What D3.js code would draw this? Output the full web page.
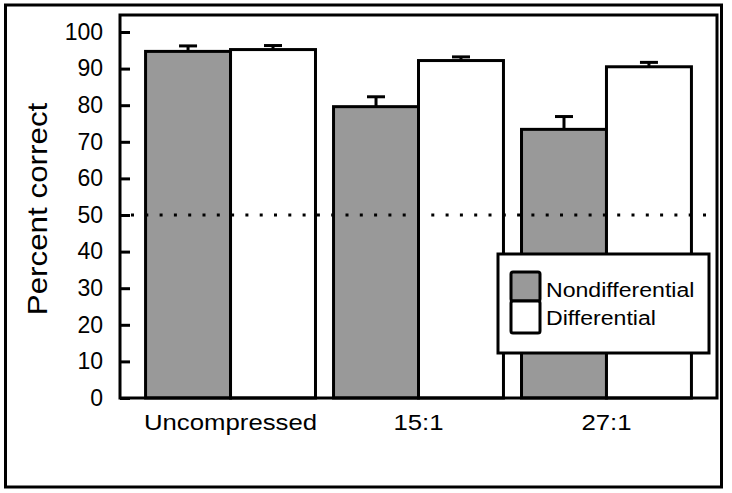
<!DOCTYPE html>
<html><head><meta charset="utf-8">
<script src="https://cdn.jsdelivr.net/npm/d3@7"></script>
<style>
html,body{margin:0;padding:0;background:#fff;}
text{font-family:"Liberation Sans",Arial,Helvetica,sans-serif;fill:#000;}
</style></head>
<body><svg id="c" width="732" height="493"></svg>
<script>
const categories = ["Uncompressed", "15:1", "27:1"];
const seriesNames = ["Nondifferential", "Differential"];
const nondiffValues = [94.7, 79.6, 73.4];
const nondiffErrors = [1.5, 2.7, 3.5];
const diffValues = [95.2, 92.2, 90.5];
const diffErrors = [1.1, 1.0, 1.2];
const yTicks = [0,10,20,30,40,50,60,70,80,90,100];
const chanceLevel = 50;
const seriesColors = ["#999999", "#ffffff"];

const svg = d3.select("#c");
const L = 120, R = 717, T = 15, B = 398;

// outer frame
svg.append("rect").attr("x",5.5).attr("y",5).attr("width",716).attr("height",482)
  .attr("fill","none").attr("stroke","#000").attr("stroke-width",3);

const x0 = d3.scaleBand().domain(categories).range([L, R]).paddingInner(0.096).paddingOuter(0.136);
const x1 = d3.scaleBand().domain(seriesNames).range([0, x0.bandwidth()]);
const y = d3.scaleLinear().domain([0, 100]).range([B, 32]);

const rows = [];
categories.forEach((c,i)=>{
  rows.push({cat:c, s:seriesNames[0], v:nondiffValues[i], e:nondiffErrors[i], col:seriesColors[0]});
  rows.push({cat:c, s:seriesNames[1], v:diffValues[i], e:diffErrors[i], col:seriesColors[1]});
});

// bars
svg.append("g").selectAll("rect").data(rows).join("rect")
  .attr("x", d=>x0(d.cat)+x1(d.s))
  .attr("y", d=>y(d.v))
  .attr("width", x1.bandwidth())
  .attr("height", d=>B - y(d.v))
  .attr("fill", d=>d.col).attr("stroke","#000").attr("stroke-width",3);

// error bars
const eg = svg.append("g").attr("stroke","#000").attr("stroke-width",3);
rows.forEach(d=>{
  const cx = x0(d.cat)+x1(d.s)+x1.bandwidth()/2;
  eg.append("line").attr("x1",cx).attr("x2",cx).attr("y1",y(d.v)).attr("y2",y(d.v+d.e));
  eg.append("line").attr("x1",cx-9).attr("x2",cx+9).attr("y1",y(d.v+d.e)).attr("y2",y(d.v+d.e));
});

// chance line
svg.append("line").attr("x1",L+11).attr("x2",R).attr("y1",y(chanceLevel)).attr("y2",y(chanceLevel))
  .attr("stroke","#000").attr("stroke-width",3).attr("stroke-dasharray","3,11.3");

// y axis
const ax = svg.append("g").attr("transform",`translate(${L},0)`)
  .call(d3.axisLeft(y).tickValues(yTicks).tickSizeInner(-10).tickSizeOuter(0).tickPadding(17));
ax.select(".domain").remove();
ax.selectAll(".tick line").attr("stroke","#000").attr("stroke-width",3);
ax.selectAll(".tick text").attr("font-size",23).attr("font-family",'"Liberation Sans",Arial,sans-serif').attr("fill","#000");

// plot frame
svg.append("rect").attr("x",L).attr("y",T).attr("width",R-L).attr("height",B-T)
  .attr("fill","none").attr("stroke","#000").attr("stroke-width",3);

// category labels
svg.append("g").selectAll("text").data(categories).join("text")
  .attr("transform", d=>`translate(${x0(d)+x0.bandwidth()/2},430) scale(1.12,1)`)
  .attr("text-anchor","middle").attr("font-size",23).text(d=>d);

// y label
svg.append("text").attr("transform","translate(47,209) rotate(-90) scale(1.12,1)")
  .attr("text-anchor","middle").attr("font-size",28).text("Percent correct");

// legend
const lg = svg.append("g");
lg.append("rect").attr("x",498).attr("y",254).attr("width",211).attr("height",99)
  .attr("fill","#fff").attr("stroke","#000").attr("stroke-width",3);
seriesNames.forEach((s,i)=>{
  lg.append("rect").attr("x",511).attr("y",i===0?272:301).attr("width",29).attr("height",i===0?29:32)
    .attr("fill",seriesColors[i]).attr("stroke","#000").attr("stroke-width",3).attr("rx",2);
  lg.append("text").attr("transform",`translate(546,${i===0?297:325}) scale(1.1,1)`)
    .attr("font-size",21).text(s);
});
</script></body></html>
